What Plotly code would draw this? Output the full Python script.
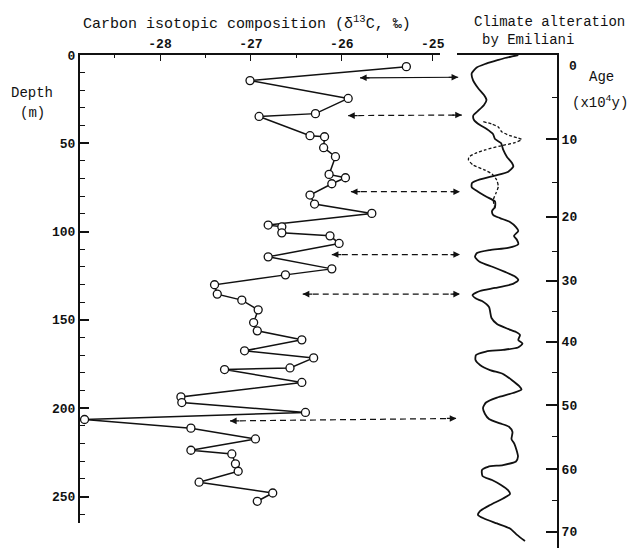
import plotly.graph_objects as go

# --- main series: depth (m) vs carbon isotopic composition (d13C, permil)
depth = [6.6, 14.5, 24.6, 33.2, 34.8, 45.7, 46.3, 52.5, 57.6, 67.6, 69.5, 72.9, 79.3, 84.4,
         89.7, 96.3, 97.3, 100.7, 102.4, 106.7, 114.3, 121.1, 124.5, 130.1, 135.4, 138.8,
         144.3, 151.5, 156.2, 161.3, 167.5, 171.5, 177.2, 178.1, 185.4, 193.6, 196.8, 202.4,
         206.4, 211.3, 217.4, 223.8, 225.9, 231.5, 235.7, 241.9, 248.0, 252.7]
d13c = [-25.29, -27.01, -25.93, -26.29, -26.91, -26.35, -26.19, -26.20, -26.07, -26.14, -25.96,
        -26.11, -26.35, -26.30, -25.67, -26.81, -26.66, -26.66, -26.13, -26.03, -26.81, -26.11,
        -26.62, -27.40, -27.37, -27.10, -26.92, -26.97, -26.93, -26.44, -27.07, -26.31, -26.57,
        -27.29, -26.44, -27.77, -27.76, -26.40, -28.83, -27.66, -26.95, -27.66, -27.21, -27.17,
        -27.14, -27.57, -26.76, -26.93]

# --- Emiliani climate curve (relative index, 0-100) vs depth
clim_x = [61.3, 48, 39.7, 28, 19.7, 14.7, 16, 21, 27, 29.5, 27, 21, 16.3, 17, 23, 29.7, 36, 38, 44,
          46.3, 50, 55, 56.3, 51.3, 38, 23, 15, 14.7, 20, 29, 38, 38, 35, 36.3, 43, 53, 59, 61.3,
          57, 60, 61.3, 51, 33, 20, 18, 23, 36, 48, 58, 61.3, 56, 38, 23, 15.5, 19, 25, 32, 34.5,
          40, 51, 59, 63, 61.3, 65.5, 61, 46, 29, 19, 18.5, 23, 33, 46, 54.7, 62, 64.5, 56, 40,
          29, 26, 28, 32, 43, 52, 55.5, 54.5, 57.5, 59.5, 61, 59, 46, 31, 25, 25.5, 35, 44, 51,
          53, 46, 33, 23, 21, 27, 40, 53, 60, 68]
clim_d = [0, 1.7, 3.1, 5.1, 7.1, 10.4, 14.2, 18.7, 22.7, 25.5, 28.3, 31.7, 34.3, 36.8, 39.7,
          41.9, 44.8, 47.6, 49.9, 53.8, 57.8, 61.2, 63.2, 66.1, 68.3, 70.5, 72.5, 74.8, 77.1,
          80.2, 83.0, 86.1, 88.4, 90.7, 92.4, 94.6, 97.5, 99.7, 102.5, 104.8, 107.1, 109.3,
          110.5, 112.2, 114.4, 117.3, 120.1, 122.9, 125.5, 127.5, 129.7, 132.0, 133.7, 136.0,
          138.0, 139.4, 142.8, 149.0, 152.4, 155.2, 156.9, 158.6, 161.5, 163.5, 165.7, 167.1,
          168.0, 170.0, 172.8, 175.6, 178.5, 180.7, 184.1, 187.5, 189.5, 191.5, 194.1, 196.9,
          200.0, 203.4, 206.2, 208.7, 210.6, 213.6, 217.6, 220.4, 223.8, 227.5, 230.3, 232.3,
          233.3, 235.1, 238.5, 240.8, 243.6, 246.5, 248.7, 251.3, 255.0, 258.4, 260.6, 262.6,
          265.4, 268.3, 271.9, 275.4]
alt_x = [26.3, 35, 41.3, 44.7, 53, 61, 64.7, 58, 43, 28, 18, 12, 11.5, 16, 28, 35, 39.7, 41.3,
         39, 36.3, 38]
alt_d = [37.8, 39.1, 40.8, 43.5, 45.7, 47.0, 47.9, 49.6, 51.6, 53.8, 55.8, 57.8, 59.5, 62.3,
         65.2, 67.4, 70.8, 74.6, 78.2, 82.2, 86.9]

# --- correlation arrows (d13C units on a continued scale)
arrow_left = [-25.80, -25.93, -25.90, -26.11, -26.43, -27.23]
arrow_right = [-24.72, -24.68, -24.70, -24.70, -24.70, -24.74]
arrow_dl = [12.9, 34.3, 77.4, 113.0, 135.4, 207.2]
arrow_dr = [12.6, 34.0, 77.4, 113.0, 135.4, 205.8]
arrow_dash = ["solid", "dash", "dash", "dash", "dash", "dash"]

# --- axes ticks
x_major = [-28, -27, -26, -25]
x_minor = [-28.5, -27.5, -26.5, -25.5]
depth_major = [0, 50, 100, 150, 200, 250]
depth_minor = [10, 20, 30, 40, 60, 70, 80, 90, 110, 120, 130, 140, 160, 170, 180, 190,
               210, 220, 230, 240, 260]
age_labels = ["10", "20", "30", "40", "50", "60", "70"]
age_major_depth = [47.8, 91.6, 127.9, 162.4, 198.3, 234.6, 270.1]
age_minor_depth = [24.0, 72.5, 111.4, 145.4, 180.0, 216.3, 252.5]

FONT = "Liberation Mono"
INK = "#111111"

fig = go.Figure()

fig.add_trace(go.Scatter(
    x=d13c, y=depth, xaxis="x", yaxis="y", mode="lines+markers",
    line=dict(color=INK, width=1.5),
    marker=dict(symbol="circle", size=8, color="white", line=dict(color=INK, width=1.3)),
    showlegend=False, cliponaxis=False))

fig.add_trace(go.Scatter(
    x=clim_x, y=clim_d, xaxis="x2", yaxis="y2", mode="lines",
    line=dict(color=INK, width=1.8, shape="spline", smoothing=0.6), showlegend=False))
fig.add_trace(go.Scatter(
    x=alt_x, y=alt_d, xaxis="x2", yaxis="y2", mode="lines",
    line=dict(color=INK, width=1.3, dash="3px,2px", shape="spline", smoothing=0.6),
    showlegend=False))

annotations = []
for xl, xr, dl, dr, ds in zip(arrow_left, arrow_right, arrow_dl, arrow_dr, arrow_dash):
    fig.add_trace(go.Scatter(
        x=[xl, xr], y=[dl, dr], xaxis="x3", yaxis="y", mode="lines",
        line=dict(color=INK, width=1.2, dash=("solid" if ds == "solid" else "6px,4px")),
        showlegend=False, hoverinfo="skip"))
    annotations.append(dict(x=xl, y=dl, xref="x3", yref="y", ax=11, ay=0, text="",
                            showarrow=True, arrowhead=2, arrowsize=1.1, arrowwidth=1.2,
                            arrowcolor=INK))
    annotations.append(dict(x=xr, y=dr, xref="x3", yref="y", ax=-11, ay=0, text="",
                            showarrow=True, arrowhead=2, arrowsize=1.1, arrowwidth=1.2,
                            arrowcolor=INK))

tickf = dict(family=FONT, size=13, color=INK, weight="bold")
txtf = dict(family=FONT, size=14, color=INK)
titf = dict(family=FONT, size=15, color=INK)

annotations += [
    dict(text="Carbon isotopic composition (δ<sup>13</sup>C, ‰)", xref="paper", yref="paper",
         x=0.350, y=1.065, showarrow=False, font=titf, xanchor="center", yanchor="middle"),
    dict(text="Climate alteration", xref="paper", yref="paper", x=0.822, y=1.067,
         showarrow=False, font=txtf, xanchor="left", yanchor="middle"),
    dict(text="by Emiliani", xref="paper", yref="paper", x=0.8386, y=1.0304,
         showarrow=False, font=txtf, xanchor="left", yanchor="middle"),
    dict(text="Depth", xref="paper", yref="paper", x=-0.1006, y=0.923,
         showarrow=False, font=txtf, xanchor="center", yanchor="middle"),
    dict(text="(m)", xref="paper", yref="paper", x=-0.1006, y=0.882,
         showarrow=False, font=txtf, xanchor="center", yanchor="middle"),
    dict(text="0", xref="paper", yref="y2", x=1, y=0, xshift=10, yshift=-11,
         showarrow=False, font=tickf, xanchor="left", yanchor="middle"),
    dict(text="Age", xref="paper", yref="paper", x=1.0937, y=0.956,
         showarrow=False, font=txtf, xanchor="center", yanchor="middle"),
    dict(text="(x10<sup>4</sup>y)", xref="paper", yref="paper", x=1.090, y=0.905,
         showarrow=False, font=txtf, xanchor="center", yanchor="middle"),
]

xmin, xmax = -28.88, -24.92
scale = (xmax - xmin) / (440 - 80)
x3max = xmin + scale * 477

# the page body adds an 8px offset; the figure is sized so the plot area lands at 80..557 x 55..548
fig.update_layout(
    width=627, height=542,
    margin=dict(l=72, r=78, t=47, b=2),
    paper_bgcolor="white", plot_bgcolor="rgba(0,0,0,0)",
    font=dict(family=FONT, color=INK),
    xaxis=dict(domain=[0, (440 - 80) / 477], range=[xmin, xmax], side="top", anchor="y",
               automargin=False,
               showline=True, linecolor=INK, linewidth=1.6, showgrid=False, zeroline=False,
               tickmode="array", tickvals=x_major, ticktext=[str(v) for v in x_major],
               ticks="inside", ticklen=6, tickwidth=1.3, tickcolor=INK, tickfont=tickf,
               minor=dict(tickmode="array", tickvals=x_minor, ticks="inside", ticklen=3,
                          tickwidth=1.2, tickcolor=INK, showgrid=False)),
    yaxis=dict(domain=[(548 - 523) / 493, 1], range=[265, 0], anchor="x", side="left",
               automargin=False,
               showline=True, linecolor=INK, linewidth=2, showgrid=False, zeroline=False,
               tickmode="array", tickvals=depth_major, ticktext=[str(v) for v in depth_major],
               ticks="inside", ticklen=9, tickwidth=1.5, tickcolor=INK, tickfont=tickf,
               minor=dict(tickmode="array", tickvals=depth_minor, ticks="inside", ticklen=5,
                          tickwidth=1.3, tickcolor=INK, showgrid=False)),
    xaxis2=dict(domain=[(457 - 80) / 477, 1], range=[0, 100], side="top", anchor="y2",
                automargin=False,
                showline=True, linecolor=INK, linewidth=1.6, showgrid=False, zeroline=False,
                showticklabels=False, ticks=""),
    yaxis2=dict(domain=[0, 1], range=[(548 - 55) / 1.765, 0], anchor="x2", side="right",
                automargin=False,
                showline=True, linecolor=INK, linewidth=2, showgrid=False, zeroline=False,
                tickmode="array", tickvals=age_major_depth, ticktext=age_labels,
                ticks="inside", ticklen=11, tickwidth=1.5, tickcolor=INK, tickfont=tickf,
                minor=dict(tickmode="array", tickvals=age_minor_depth, ticks="inside",
                           ticklen=5, tickwidth=1.3, tickcolor=INK, showgrid=False)),
    xaxis3=dict(domain=[0, 1], range=[xmin, x3max], anchor="y", visible=False,
                automargin=False),
    annotations=annotations,
)

fig.write_html("out.html")
